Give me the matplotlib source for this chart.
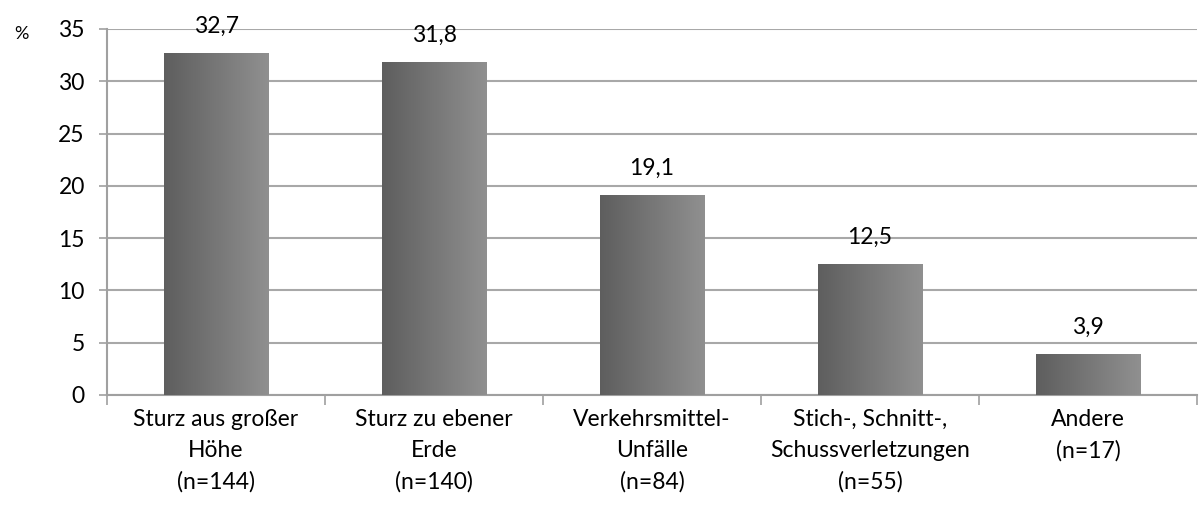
import matplotlib.pyplot as plt
import numpy as np

categories = ['Sturz aus großer\nHöhe\n(n=144)', 'Sturz zu ebener\nErde\n(n=140)',
              'Verkehrsmittel-\nUnfälle\n(n=84)', 'Stich-, Schnitt-,\nSchussverletzungen\n(n=55)',
              'Andere\n(n=17)']
values = [32.7, 31.8, 19.1, 12.5, 3.9]
labels = ['32,7', '31,8', '19,1', '12,5', '3,9']

plt.rcParams['font.family'] = ['Lato', 'DejaVu Sans']
fig = plt.figure(figsize=(12, 5.05), dpi=100)
ax = fig.add_axes([0.0892, 0.218, 0.9083, 0.7246])

x = np.arange(len(values))
bars = ax.bar(x, values, width=0.48, color='none', zorder=3)
grad = np.linspace(0, 1, 256).reshape(1, -1)
cmap = plt.matplotlib.colors.LinearSegmentedColormap.from_list('g', ['#5e5e5e', '#909090'])
for b in bars:
    x0, y0 = b.get_x(), b.get_y()
    im = ax.imshow(grad, cmap=cmap, extent=[x0, x0 + b.get_width(), y0, y0 + b.get_height()],
                   aspect='auto', zorder=3)
    im.set_clip_path(b)

for xi, v, t in zip(x, values, labels):
    ax.text(xi, v + 2.6, t, ha='center', va='center', fontsize=16.5)

ax.set_xlim(-0.5, len(values) - 0.5)
ax.set_ylim(0, 35)
ax.set_yticks(range(0, 36, 5))
ax.set_xticks(x)
ax.set_xticklabels(categories, fontsize=16.5, linespacing=1.6)
ax.set_xticks(np.arange(-0.5, len(values), 1), minor=True)
ax.tick_params(axis='x', which='major', length=0, pad=10)
ax.tick_params(axis='x', which='minor', length=7, color='#a0a0a0', width=1.2)
ax.tick_params(axis='y', labelsize=16.5, length=6, color='#a0a0a0', width=1.2, pad=10)
ax.grid(axis='y', color='#a8a8a8', linewidth=1.5, zorder=0)
ax.set_axisbelow(True)
for s in ['top', 'right']:
    ax.spines[s].set_visible(False)
for s in ['left', 'bottom']:
    ax.spines[s].set_color('#a0a0a0')
    ax.spines[s].set_linewidth(1.5)
fig.text(0.012, 0.932, '%', fontsize=13, va='center')

plt.savefig('out.png')
